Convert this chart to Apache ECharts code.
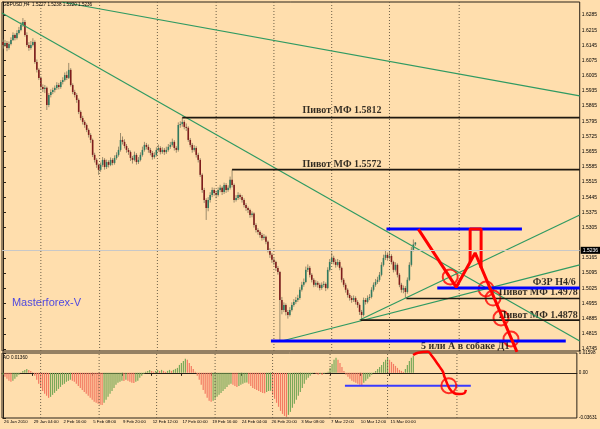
<!DOCTYPE html>
<html><head><meta charset="utf-8">
<script src="https://cdn.jsdelivr.net/npm/echarts@6/dist/echarts.min.js"></script>
<style>html,body{margin:0;padding:0;background:#ffdead;}#c{width:600px;height:429px;}</style>
</head><body><div id="c"></div>
<script>
// ---------- DATA ----------
const timeLabels = ['26 Jan 2010','29 Jan 04:00','2 Feb 16:00','5 Feb 08:00','9 Feb 20:00','12 Feb 12:00','17 Feb 00:00','19 Feb 16:00','24 Feb 04:00','26 Feb 20:00','3 Mar 08:00','7 Mar 22:00','10 Mar 12:00','15 Mar 00:00'];
const timeLabelBars = [0,15,30,45,60,75,90,105,120,135,150,165,180,195];
const gridBars = [19,48.5,77.5,107,136,165,194,229];
const priceTicks = [1.6285,1.6215,1.6145,1.6075,1.6005,1.5935,1.5865,1.5795,1.5725,1.5655,1.5585,1.5515,1.5445,1.5375,1.5305,1.5165,1.5095,1.5025,1.4955,1.4885,1.4815,1.4745];
const aoTicks = [0.01598,0,-0.03631];
const lastPrice = 1.5236;
const symbolTitle = 'GBPUSD,H4  1.5227 1.5238 1.5220 1.5236';
const aoTitle = 'AO 0.01360';
// candles: [open, close, low, high]
const candles = [
[1.6160,1.6147,1.6130,1.6172],[1.6147,1.6156,1.6138,1.6170],[1.6156,1.6133,1.6118,1.6165],[1.6133,1.6151,1.6125,1.6163],
[1.6151,1.6170,1.6145,1.6182],[1.6170,1.6193,1.6165,1.6205],[1.6193,1.6179,1.6168,1.6200],[1.6179,1.6202,1.6172,1.6215],
[1.6202,1.6216,1.6195,1.6230],[1.6216,1.6239,1.6210,1.6252],[1.6239,1.6253,1.6230,1.6271],[1.6253,1.6193,1.6185,1.6262],
[1.6193,1.6147,1.6138,1.6205],[1.6147,1.6133,1.6120,1.6160],[1.6133,1.6147,1.6125,1.6165],[1.6147,1.6161,1.6140,1.6178],
[1.6161,1.6068,1.6060,1.6168],[1.6068,1.6032,1.6020,1.6080],[1.6032,1.5995,1.5985,1.6040],[1.5995,1.5953,1.5940,1.6002],
[1.5953,1.5944,1.5930,1.5965],[1.5944,1.5949,1.5925,1.5962],[1.5949,1.5870,1.5847,1.5955],[1.5870,1.5916,1.5860,1.5925],
[1.5916,1.5930,1.5905,1.5942],[1.5930,1.5939,1.5920,1.5950],[1.5939,1.5949,1.5928,1.5960],[1.5949,1.5962,1.5940,1.5975],
[1.5962,1.5953,1.5942,1.5972],[1.5953,1.5976,1.5945,1.5985],[1.5976,1.5985,1.5965,1.5998],[1.5985,1.6008,1.5978,1.6020],
[1.6008,1.5995,1.5985,1.6025],[1.5995,1.6032,1.5990,1.6064],[1.6032,1.5962,1.5955,1.6040],[1.5962,1.5930,1.5920,1.5970],
[1.5930,1.5916,1.5905,1.5940],[1.5916,1.5893,1.5880,1.5925],[1.5893,1.5838,1.5828,1.5900],[1.5838,1.5810,1.5800,1.5845],
[1.5810,1.5792,1.5780,1.5820],[1.5792,1.5778,1.5765,1.5800],[1.5778,1.5755,1.5745,1.5785],[1.5755,1.5732,1.5720,1.5762],
[1.5732,1.5709,1.5695,1.5740],[1.5709,1.5640,1.5630,1.5715],[1.5640,1.5617,1.5605,1.5650],[1.5617,1.5594,1.5580,1.5625],
[1.5594,1.5571,1.5548,1.5600],[1.5571,1.5594,1.5562,1.5605],[1.5594,1.5617,1.5585,1.5630],[1.5617,1.5584,1.5572,1.5625],
[1.5584,1.5607,1.5575,1.5618],[1.5607,1.5594,1.5582,1.5615],[1.5594,1.5617,1.5588,1.5628],[1.5617,1.5603,1.5592,1.5625],
[1.5603,1.5626,1.5595,1.5638],[1.5626,1.5640,1.5618,1.5652],[1.5640,1.5663,1.5632,1.5678],[1.5663,1.5709,1.5655,1.5741],
[1.5709,1.5700,1.5688,1.5725],[1.5700,1.5681,1.5670,1.5712],[1.5681,1.5663,1.5650,1.5690],[1.5663,1.5653,1.5640,1.5672],
[1.5653,1.5626,1.5612,1.5660],[1.5626,1.5617,1.5600,1.5635],[1.5617,1.5640,1.5610,1.5655],[1.5640,1.5607,1.5595,1.5648],
[1.5607,1.5617,1.5598,1.5630],[1.5617,1.5640,1.5610,1.5652],[1.5640,1.5663,1.5632,1.5678],[1.5663,1.5686,1.5655,1.5700],
[1.5686,1.5677,1.5665,1.5695],[1.5677,1.5663,1.5650,1.5688],[1.5663,1.5649,1.5638,1.5672],[1.5649,1.5630,1.5618,1.5658],
[1.5630,1.5640,1.5622,1.5652],[1.5640,1.5663,1.5632,1.5675],[1.5663,1.5672,1.5655,1.5688],[1.5672,1.5653,1.5642,1.5680],
[1.5653,1.5663,1.5645,1.5675],[1.5663,1.5653,1.5640,1.5672],[1.5653,1.5663,1.5645,1.5678],[1.5663,1.5677,1.5655,1.5690],
[1.5677,1.5686,1.5668,1.5700],[1.5686,1.5700,1.5678,1.5715],[1.5700,1.5672,1.5660,1.5708],[1.5672,1.5663,1.5650,1.5680],
[1.5663,1.5778,1.5655,1.5790],[1.5778,1.5782,1.5765,1.5795],[1.5782,1.5792,1.5770,1.5812],[1.5792,1.5769,1.5758,1.5800],
[1.5769,1.5765,1.5750,1.5785],[1.5765,1.5709,1.5700,1.5772],[1.5709,1.5686,1.5675,1.5718],[1.5686,1.5663,1.5650,1.5695],
[1.5663,1.5672,1.5655,1.5685],[1.5672,1.5640,1.5628,1.5680],[1.5640,1.5617,1.5605,1.5650],[1.5617,1.5548,1.5538,1.5625],
[1.5548,1.5478,1.5465,1.5555],[1.5478,1.5432,1.5418,1.5488],[1.5432,1.5395,1.5340,1.5440],[1.5395,1.5432,1.5380,1.5445],
[1.5432,1.5455,1.5420,1.5468],[1.5455,1.5478,1.5445,1.5490],[1.5478,1.5464,1.5452,1.5488],[1.5464,1.5455,1.5440,1.5475],
[1.5455,1.5478,1.5448,1.5490],[1.5478,1.5488,1.5468,1.5502],[1.5488,1.5469,1.5455,1.5495],[1.5469,1.5501,1.5460,1.5512],
[1.5501,1.5478,1.5465,1.5510],[1.5478,1.5488,1.5470,1.5500],[1.5488,1.5525,1.5480,1.5540],[1.5525,1.5501,1.5490,1.5572],
[1.5501,1.5432,1.5420,1.5508],[1.5432,1.5441,1.5425,1.5455],[1.5441,1.5455,1.5432,1.5468],[1.5455,1.5446,1.5435,1.5462],
[1.5446,1.5432,1.5420,1.5455],[1.5432,1.5409,1.5398,1.5440],[1.5409,1.5395,1.5382,1.5418],[1.5395,1.5386,1.5372,1.5402],
[1.5386,1.5363,1.5350,1.5392],[1.5363,1.5370,1.5352,1.5380],[1.5370,1.5317,1.5305,1.5375],[1.5317,1.5294,1.5282,1.5325],
[1.5294,1.5285,1.5272,1.5302],[1.5285,1.5271,1.5258,1.5292],[1.5271,1.5257,1.5245,1.5280],[1.5257,1.5262,1.5248,1.5275],
[1.5262,1.5239,1.5228,1.5268],[1.5239,1.5202,1.5190,1.5245],[1.5202,1.5179,1.5165,1.5210],[1.5179,1.5156,1.5142,1.5188],
[1.5156,1.5146,1.5132,1.5165],[1.5146,1.5119,1.5105,1.5152],[1.5119,1.5100,1.5088,1.5128],[1.5100,1.4971,1.4781,1.5105],
[1.4971,1.4925,1.4905,1.4985],[1.4925,1.4948,1.4915,1.4960],[1.4948,1.4916,1.4900,1.4955],[1.4916,1.4902,1.4885,1.4925],
[1.4902,1.4925,1.4895,1.4938],[1.4925,1.4948,1.4918,1.4960],[1.4948,1.4962,1.4940,1.4975],[1.4962,1.4971,1.4952,1.4985],
[1.4971,1.4980,1.4962,1.4995],[1.4980,1.5018,1.4972,1.5030],[1.5018,1.5041,1.5010,1.5055],[1.5041,1.5054,1.5032,1.5070],
[1.5054,1.5110,1.5048,1.5125],[1.5110,1.5119,1.5100,1.5135],[1.5119,1.5087,1.5075,1.5128],[1.5087,1.5064,1.5052,1.5095],
[1.5064,1.5041,1.5030,1.5072],[1.5041,1.5050,1.5032,1.5062],[1.5050,1.5041,1.5028,1.5058],[1.5041,1.5026,1.5015,1.5050],
[1.5026,1.5041,1.5018,1.5052],[1.5041,1.5045,1.5030,1.5058],[1.5045,1.5026,1.5012,1.5052],[1.5026,1.5110,1.5020,1.5122],
[1.5110,1.5146,1.5102,1.5160],[1.5146,1.5165,1.5138,1.5189],[1.5165,1.5146,1.5135,1.5175],[1.5146,1.5133,1.5120,1.5158],
[1.5133,1.5146,1.5125,1.5160],[1.5146,1.5119,1.5108,1.5155],[1.5119,1.5064,1.5052,1.5125],[1.5064,1.5041,1.5030,1.5072],
[1.5041,1.5018,1.5005,1.5050],[1.5018,1.4994,1.4982,1.5025],[1.4994,1.4980,1.4968,1.5002],[1.4980,1.4971,1.4958,1.4990],
[1.4971,1.4980,1.4962,1.4992],[1.4980,1.4962,1.4950,1.4988],[1.4962,1.4948,1.4935,1.4970],[1.4948,1.4916,1.4902,1.4955],
[1.4916,1.4902,1.4878,1.4925],[1.4902,1.4971,1.4895,1.4982],[1.4971,1.4962,1.4950,1.4980],[1.4962,1.4980,1.4955,1.4992],
[1.4980,1.4985,1.4970,1.4998],[1.4985,1.5018,1.4978,1.5030],[1.5018,1.5041,1.5010,1.5052],[1.5041,1.5054,1.5032,1.5068],
[1.5054,1.5064,1.5045,1.5078],[1.5064,1.5087,1.5055,1.5100],[1.5087,1.5133,1.5080,1.5145],[1.5133,1.5165,1.5125,1.5180],
[1.5165,1.5179,1.5155,1.5202],[1.5179,1.5165,1.5152,1.5190],[1.5165,1.5174,1.5158,1.5192],[1.5174,1.5146,1.5135,1.5182],
[1.5146,1.5110,1.5098,1.5152],[1.5110,1.5133,1.5102,1.5145],[1.5133,1.5087,1.5075,1.5140],[1.5087,1.5041,1.5030,1.5095],
[1.5041,1.5018,1.5005,1.5050],[1.5018,1.5026,1.5002,1.5038],[1.5026,1.5008,1.4978,1.5035],[1.5008,1.5064,1.5000,1.5075],
[1.5064,1.5133,1.5058,1.5145],[1.5133,1.5202,1.5125,1.5215],[1.5202,1.5227,1.5195,1.5250],[1.5227,1.5236,1.5220,1.5238]
];
const aoValues = [
-0.0016,-0.0032,-0.0048,-0.0064,-0.0072,-0.0064,-0.0048,-0.0032,-0.0016,-0.0002,
0.0016,0.0024,0.0032,0.0024,0.0016,
-0.0002,-0.0024,-0.0056,-0.0088,-0.0121,-0.0145,-0.0169,-0.0185,-0.0201,
-0.0193,-0.0177,-0.0161,-0.0145,-0.0129,-0.0113,-0.0096,-0.0088,-0.0072,-0.0064,-0.0056,
-0.0064,-0.0072,-0.0088,-0.0105,-0.0121,-0.0137,-0.0153,-0.0169,-0.0185,-0.0201,-0.0217,-0.0233,-0.0241,-0.0249,-0.0257,-0.0259,
-0.0241,-0.0217,-0.0193,-0.0169,-0.0145,-0.0121,-0.0096,-0.0080,
-0.0072,-0.0064,-0.0066,-0.0056,
-0.0064,-0.0072,-0.0080,-0.0082,-0.0072,-0.0064,
-0.0040,-0.0024,-0.0008,0.0008,
0.0016,0.0024,0.0016,0.0008,0.0016,
0.0024,0.0016,0.0024,0.0016,0.0008,0.0016,0.0024,0.0016,0.0024,0.0032,
0.0040,0.0064,0.0080,0.0096,0.0113,0.0105,
0.0080,0.0056,0.0032,0.0008,
-0.0024,-0.0056,-0.0096,-0.0137,-0.0169,-0.0201,-0.0225,-0.0233,
-0.0225,-0.0209,-0.0193,-0.0177,-0.0161,-0.0145,-0.0129,-0.0113,-0.0096,-0.0088,
-0.0096,-0.0105,-0.0113,
-0.0105,-0.0096,-0.0088,-0.0080,-0.0078,
-0.0088,-0.0105,-0.0121,-0.0129,-0.0137,-0.0145,-0.0153,-0.0161,-0.0163,
-0.0153,-0.0145,-0.0143,
-0.0177,-0.0209,-0.0241,-0.0273,-0.0306,-0.0330,-0.0346,-0.0354,
-0.0338,-0.0314,-0.0281,-0.0249,-0.0217,-0.0185,
-0.0153,-0.0121,-0.0088,-0.0056,
-0.0040,-0.0024,-0.0008,-0.0002,
-0.0008,-0.0016,-0.0010,-0.0018,-0.0008,-0.0002,0.0008,
0.0040,0.0072,0.0105,0.0121,0.0105,0.0080,
0.0048,0.0016,
-0.0016,-0.0032,-0.0048,-0.0064,-0.0072,-0.0080,-0.0088,-0.0096,-0.0098,
-0.0080,-0.0064,-0.0048,-0.0032,-0.0016,-0.0002,
0.0016,0.0032,0.0048,0.0064,0.0088,0.0105,0.0121,
0.0105,0.0088,0.0072,0.0056,0.0040,0.0024,0.0016,0.0008,
0.0032,0.0064,0.0096,0.0121,0.0136
];
// annotations in (bar index, price)
const greenLines = [
  [[29.5,1.6345],[289.5,1.5912]],
  [[-0.5,1.6294],[289.5,1.4782]],
  [[140,1.4782],[289.5,1.5133]],
  [[179,1.4879],[289.5,1.5363]]
];
const pivotLines = [
  [[90,1.5812],[289.5,1.5812]],
  [[115,1.5572],[289.5,1.5572]],
  [[202.5,1.4978],[289.5,1.4978]],
  [[179.5,1.4878],[289.5,1.4878]]
];
const blueLines = [
  [[192.5,1.5298],[260.5,1.5298]],
  [[218,1.5026],[289.5,1.5026]],
  [[134.5,1.4782],[282.5,1.4782]]
];
const redPaths = [
  [[208.5,1.5298],[227.5,1.5030],[237,1.5188],[258,1.4732]],
  [[234.5,1.5146],[234.5,1.5298],[240,1.5298],[240,1.5119]]
];
const redCircles = [[224.5,1.5077],[242.5,1.5022],[246,1.4980],[250,1.4888],[255,1.4791]];
const notes = [
  {text:'Пивот МФ 1.5812', at:[190,1.5843], pos:'left'},
  {text:'Пивот МФ 1.5572', at:[190,1.5594], pos:'left'},
  {text:'Пивот МФ 1.4978', at:[288.5,1.5004], pos:'left'},
  {text:'Пивот МФ 1.4878', at:[288.5,1.4902], pos:'left'},
  {text:'ФЗР Н4/6', at:[287.5,1.5050], pos:'left'},
  {text:'5 или А в собаке Д1', at:[232,1.4759], pos:'inside'}
];
const brandNote = {text:'Masterforex-V', at:[4.5,1.4957]};
const aoBlueLine = [[172.5,-0.0103],[236,-0.0103]];
const aoRedCurve = [[206.9,0.0144],[209.4,0.0162],[214.4,0.0170],[216,0.0144],[218.5,0.0090],[220.2,0.0050],[221.9,0.0010],[222.7,-0.0031],[225.2,-0.0124],[227.7,-0.0164],[230.2,-0.0170],[232.7,-0.0164],[233.5,-0.0137]];
const aoCircle = [[224.9,-0.0103]];

// ---------- CHART ----------
const XMIN=-0.5, XMAX=289.5, PMIN=1.473578, PMAX=1.634494, AOMIN=-0.03631, AOMAX=0.01598;
const BG='#ffdead', UP='#2f7a60', DOWN='#7e1c1c', WICK='#9c8c6c', GRIDC='#6e6048', FRAME='#2a2218';
const chart = echarts.init(document.getElementById('c'), null, {renderer:'canvas'});
const font = 'Liberation Sans, Arial, sans-serif';
const serif = 'Liberation Serif, Times New Roman, serif';
const series = [];
const seg = (d, xi, color, w, extra) => Object.assign({type:'line', xAxisIndex:xi, yAxisIndex:xi, data:d, symbol:'none', silent:true, animation:false, lineStyle:{color:color, width:w}}, extra||{});
// vertical dotted grid (both panes)
gridBars.forEach(g => {
  series.push(seg([[g,PMIN],[g,PMAX]],0,GRIDC,1,{lineStyle:{color:GRIDC,width:1,type:[1,2]}}));
  series.push(seg([[g,AOMIN],[g,AOMAX]],1,GRIDC,1,{lineStyle:{color:GRIDC,width:1,type:[1,2]}}));
});
// current price line
series.push({type:'line', xAxisIndex:0, yAxisIndex:0, data:[], silent:true,
  markLine:{silent:true, symbol:'none', animation:false, lineStyle:{type:'solid', color:'#c8c8c8', width:1},
    label:{show:true, position:'end', distance:1, formatter:()=>lastPrice.toFixed(4), backgroundColor:'#000', color:'#fff', fontSize:5, fontFamily:font, padding:[1,2]},
    data:[{yAxis:lastPrice}]}});
// candles
series.push({type:'custom', xAxisIndex:0, yAxisIndex:0, animation:false, silent:true,
  data: candles.map((c,i)=>[i,c[0],c[1],c[2],c[3]]),
  encode:{x:0, y:[1,2,3,4]},
  renderItem:(params, api)=>{
    const i=api.value(0), o=api.value(1), c=api.value(2), l=api.value(3), h=api.value(4);
    const pO=api.coord([i,o]), pC=api.coord([i,c]), pL=api.coord([i,l]), pH=api.coord([i,h]);
    const x=pO[0];
    const top=Math.min(pO[1],pC[1]), bot=Math.max(pO[1],pC[1]);
    return {type:'group', children:[
      {type:'line', shape:{x1:x,y1:pH[1],x2:x,y2:pL[1]}, style:{stroke:WICK, lineWidth:1}},
      {type:'rect', shape:{x:x-0.8, y:top, width:1.6, height:Math.max(bot-top,1)}, style:{fill:c>=o?UP:DOWN}}
    ]};
  }});
greenLines.forEach(d=>series.push(seg(d,0,'#2f9a62',1.2)));
pivotLines.forEach(d=>series.push(seg(d,0,'#1e1810',1.6)));
blueLines.forEach(d=>series.push(seg(d,0,'#0000ff',3)));
redPaths.forEach(d=>series.push(seg(d,0,'#ff0000',3,{clip:true})));
series.push({type:'scatter', xAxisIndex:0, yAxisIndex:0, data:redCircles, symbol:'circle', symbolSize:15, silent:true, animation:false,
  itemStyle:{color:'rgba(0,0,0,0)', borderColor:'#ff0000', borderWidth:2}});
notes.forEach(n=>series.push({type:'scatter', xAxisIndex:0, yAxisIndex:0, data:[n.at], symbolSize:0, silent:true, animation:false,
  label:{show:true, position:n.pos, distance:0, formatter:n.text, color:'#000', fontFamily:serif, fontWeight:'bold', fontSize:10}}));
series.push({type:'scatter', xAxisIndex:0, yAxisIndex:0, data:[brandNote.at], symbolSize:0, silent:true, animation:false,
  label:{show:true, position:'right', distance:0, formatter:brandNote.text, color:'#2222ee', fontFamily:font, fontSize:11}});
// AO histogram
series.push({type:'bar', xAxisIndex:1, yAxisIndex:1, animation:false, silent:true, barWidth:1.2,
  data: aoValues.map((v,i)=>[i,v]),
  itemStyle:{color:(p)=>{const i=p.dataIndex; return (i>0 && aoValues[i]<aoValues[i-1]) ? '#f37a62' : '#7aa858';}}});
series.push(seg(aoBlueLine,1,'#3a3aff',2));
series.push(seg(aoRedCurve,1,'#ff0000',2.5,{smooth:0.4, clip:false, z:5}));
series.push({type:'scatter', xAxisIndex:1, yAxisIndex:1, data:aoCircle, symbolSize:15, silent:true, animation:false, clip:false, z:5,
  itemStyle:{color:'rgba(0,0,0,0)', borderColor:'#ff0000', borderWidth:2}});

const option = {
  backgroundColor: BG,
  animation:false,
  title:[
    {text:symbolTitle, left:3, top:2, padding:0, textStyle:{fontSize:4.6, fontWeight:'normal', color:'#000', fontFamily:font}},
    {text:aoTitle, left:3, top:355, padding:0, textStyle:{fontSize:4.6, fontWeight:'normal', color:'#000', fontFamily:font}}
  ],
  grid:[
    {left:2, top:2, width:580, height:349, show:true, borderColor:FRAME, borderWidth:1, backgroundColor:'transparent'},
    {left:2, top:353, width:580, height:65, show:true, borderColor:FRAME, borderWidth:1, backgroundColor:'transparent'}
  ],
  xAxis:[
    {type:'value', gridIndex:0, min:XMIN, max:XMAX, axisLine:{show:false}, axisTick:{show:false}, axisLabel:{show:false}, splitLine:{show:false}},
    {type:'value', gridIndex:1, min:XMIN, max:XMAX, position:'bottom',
      axisLine:{show:true, lineStyle:{color:FRAME}},
      axisTick:{show:true, length:3, customValues:timeLabelBars, lineStyle:{color:FRAME}},
      axisLabel:{show:true, customValues:timeLabelBars, align:'left', margin:2, padding:[0,0,0,1], fontSize:4.3, color:'#000', fontFamily:font, hideOverlap:false, showMinLabel:true,
        formatter:(v)=>{const k=timeLabelBars.indexOf(Math.round(v)); return k>=0?timeLabels[k]:'';}},
      splitLine:{show:false}}
  ],
  yAxis:[
    {type:'value', gridIndex:0, position:'right', min:PMIN, max:PMAX,
      axisLine:{show:true, lineStyle:{color:FRAME}},
      axisTick:{show:true, length:3, customValues:priceTicks, lineStyle:{color:FRAME}},
      axisLabel:{show:true, customValues:priceTicks, margin:2, fontSize:5, color:'#000', fontFamily:font, formatter:(v)=>v.toFixed(4)},
      splitLine:{show:false}},
    {type:'value', gridIndex:1, position:'right', min:AOMIN, max:AOMAX,
      axisLine:{show:true, lineStyle:{color:FRAME}},
      axisTick:{show:true, length:3, customValues:aoTicks, lineStyle:{color:FRAME}},
      axisLabel:{show:true, customValues:aoTicks, margin:2, fontSize:4.6, color:'#000', fontFamily:font, formatter:(v)=>v===0?'0.00':v.toFixed(5)},
      splitLine:{show:false}}
  ],
  series: series
};
chart.setOption(option);
</script></body></html>
